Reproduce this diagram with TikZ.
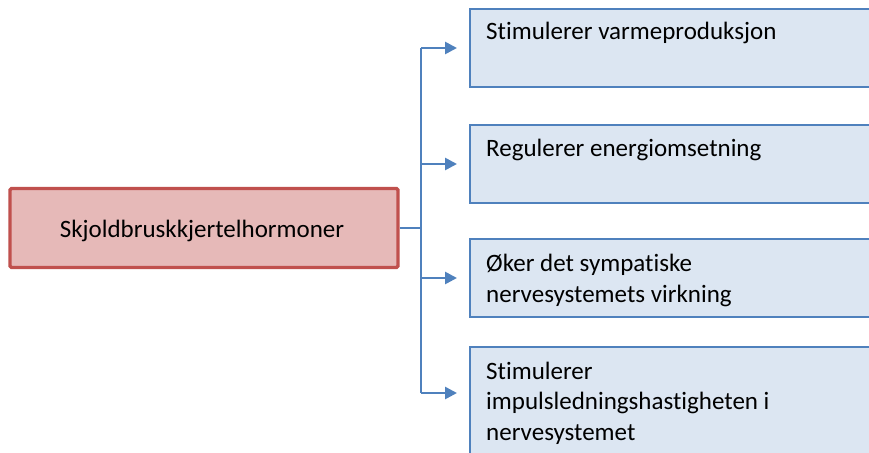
\documentclass[tikz,border=0pt]{standalone}
\usepackage{fontspec}
\setmainfont[Ligatures=NoCommon]{Carlito}
\usetikzlibrary{calc,arrows.meta}
\definecolor{redline}{HTML}{C0504D}
\definecolor{redfill}{HTML}{E6B9B8}
\definecolor{blueline}{HTML}{4F81BD}
\definecolor{bluefill}{HTML}{DCE6F2}
\begin{document}
\begin{tikzpicture}[x=1pt,y=-1pt,
  rootbox/.style={draw=redline,fill=redfill,line width=3.2pt,rounded corners=1.5pt,minimum width=388pt,minimum height=79pt,inner sep=0pt},
  leafbox/.style={draw=blueline,fill=bluefill,line width=2pt,minimum width=430pt,minimum height=78pt,inner sep=0pt,anchor=north west},
  leaftext/.style={anchor=base west,align=left,inner sep=0pt,font=\fontsize{25}{30.5}\selectfont},
  conn/.style={draw=blueline,line width=2.6pt},
  arr/.style={conn,-{Triangle[length=12pt,width=12pt]},shorten >=12pt}]
\useasboundingbox (0,0) rectangle (869,452);
\clip (0,0) rectangle (869,452);
\fill[white] (0,0) rectangle (869,452);
\node[rootbox] (root) at (204,228) {};
\node[anchor=base,inner sep=0pt,font=\fontsize{25}{30}\selectfont] (rt) at (202,237) {Skjoldbruskkjertelhormoner};
\node[leafbox] (b1) at (469,8) {};
\node[leafbox] (b2) at (469,124) {};
\node[leafbox] (b3) at (469,238) {};
\node[leafbox,minimum height=130pt] (b4) at (469,346) {};
\node[leaftext] (t1) at (486,40) {Stimulerer varmeproduksjon};
\node[leaftext] (t2) at (486,156) {Regulerer energiomsetning};
\node[leaftext] (t3) at (486,302) {Øker det sympatiske\\nervesystemets virkning};
\node[leaftext] (t4) at (486,440) {Stimulerer\\impulsledningshastigheten i\\nervesystemet};
\coordinate (jn) at (421,228);
\coordinate (a4) at ($(b4.north west)+(0,47)$);
\draw[conn] (root.east) -- (jn);
\draw[conn] (jn |- b1.west) -- (jn |- a4);
\draw[arr] (jn |- b1.west) -- (b1.west);
\draw[arr] (jn |- b2.west) -- (b2.west);
\draw[arr] (jn |- b3.west) -- (b3.west);
\draw[arr] (jn |- a4) -- (a4);
\end{tikzpicture}
\end{document}
